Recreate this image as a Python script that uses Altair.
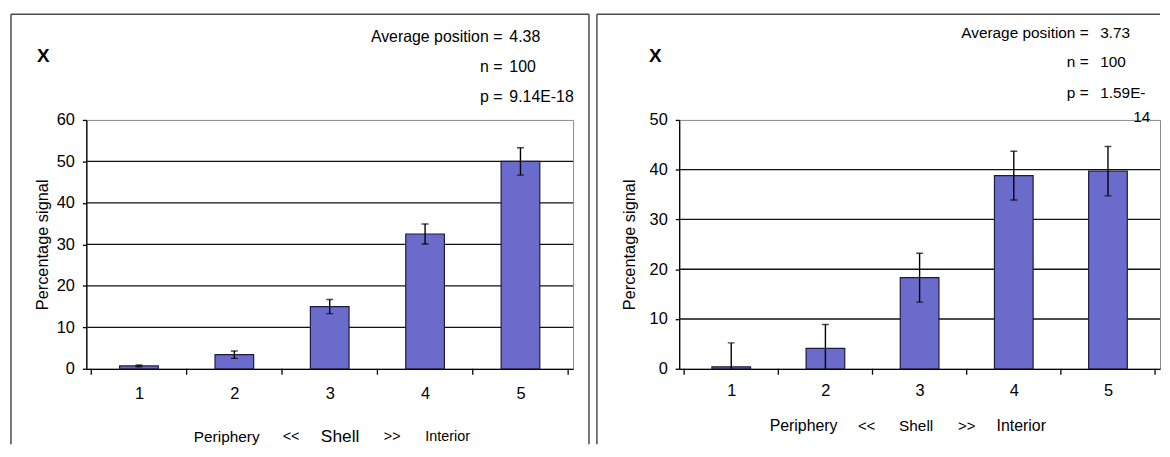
import altair as alt
import pandas as pd

# ---- data ----
POSITIONS = [1, 2, 3, 4, 5]
BOUNDARIES = [0.5, 1.5, 2.5, 3.5, 4.5, 5.5]

LEFT_VALUES = [0.7, 3.4, 15.0, 32.5, 50.0]
LEFT_ERRORS = [0.2, 0.9, 1.7, 2.4, 3.3]
LEFT_Y_TICKS = [0, 10, 20, 30, 40, 50, 60]

RIGHT_VALUES = [0.4, 4.1, 18.3, 38.8, 39.7]
RIGHT_ERRORS = [4.8, 4.8, 4.9, 4.9, 4.95]
RIGHT_Y_TICKS = [0, 10, 20, 30, 40, 50]

STATS_LABELS = ["Average position =", "n =", "p ="]
LEFT_STATS_VALUES = ["4.38", "100", "9.14E-18"]
RIGHT_STATS_VALUES = ["3.73", "100", "1.59E-", "14"]

PANEL_LETTER = "X"
Y_TITLE = "Percentage signal"
AXIS_WORDS = ["Periphery", "<<", "Shell", ">>", "Interior"]

FONT = "Liberation Sans"
BAR_FILL = "#6B6BCC"
BAR_STROKE = "#1c1c40"
FRAME = "#4a4a4a"


def one_row():
    return alt.Chart(pd.DataFrame({"k": [0]}))


def text_at(txt, x, y, size, align="left", weight="normal"):
    return one_row().mark_text(
        text=txt, font=FONT, fontSize=size, align=align, baseline="middle",
        fontWeight=weight, color="black"
    ).encode(x=alt.value(x), y=alt.value(y))


def panel(values, errors, y_ticks, W, H, frame_box, letter_xy,
          stats_values, stats_geom, words_geom, title_x, xlab_pad, right_frame=True):
    df = pd.DataFrame({
        "pos": POSITIONS,
        "val": values,
        "lo": [v - e for v, e in zip(values, errors)],
        "hi": [v + e for v, e in zip(values, errors)],
    })
    xs = alt.Scale(domain=[0.5, 5.5], nice=False, zero=False)
    ys = alt.Scale(domain=[0, y_ticks[-1]], nice=False, zero=True)
    x_axis = alt.Axis(values=POSITIONS, ticks=False, grid=False, domainColor="black",
                      domainWidth=1.3, labelFont=FONT, labelFontSize=16.5, labelColor="black",
                      labelPadding=xlab_pad, title=None, format="d", labelFlush=False)
    y_axis = alt.Axis(values=y_ticks, grid=False, domainColor="black", domainWidth=1.3,
                      tickColor="black", tickSize=4, tickWidth=1.3, labelFont=FONT,
                      labelFontSize=16.5, labelColor="black", labelPadding=8,
                      title=Y_TITLE, titleFont=FONT, titleFontSize=16.5,
                      titleFontWeight="normal", titleColor="black", titleX=title_x,
                      titleY=H / 2, titleBaseline="middle", titleAngle=-90,
                      titleAlign="center")
    X = lambda f: alt.X(f"{f}:Q", scale=xs, axis=x_axis)
    Y = lambda f: alt.Y(f"{f}:Q", scale=ys, axis=y_axis)

    grid = alt.Chart(pd.DataFrame({"val": y_ticks[1:-1]})).mark_rule(
        color="#111111", strokeWidth=1.3
    ).encode(y=Y("val"), x=alt.value(0), x2=alt.value(W))

    bars = alt.Chart(df).mark_bar(
        size=39, fill=BAR_FILL, stroke=BAR_STROKE, strokeWidth=1.2
    ).encode(x=X("pos"), y=Y("val"))

    err = alt.Chart(df).mark_errorbar(
        clip=True, color="black", thickness=1.4,
        ticks={"size": 7, "thickness": 1.4, "color": "black"}
    ).encode(x=X("pos"), y=Y("lo"), y2="hi:Q")

    xticks = alt.Chart(pd.DataFrame({"pos": BOUNDARIES})).mark_rule(
        color="black", strokeWidth=1.3
    ).encode(x=X("pos"), y=alt.value(H), y2=alt.value(H + 6))

    fl, ft, fr, fb = frame_box
    frames = [
        one_row().mark_rule(color=FRAME, strokeWidth=1.5).encode(
            x=alt.value(fl), y=alt.value(ft), y2=alt.value(fb)),
        one_row().mark_rule(color=FRAME, strokeWidth=1.5).encode(
            x=alt.value(fl), x2=alt.value(fr), y=alt.value(ft)),
    ]
    if right_frame:
        frames.append(one_row().mark_rule(color=FRAME, strokeWidth=1.5).encode(
            x=alt.value(fr), y=alt.value(ft), y2=alt.value(fb)))

    texts = [text_at(PANEL_LETTER, letter_xy[0], letter_xy[1], 19, "center", "bold")]
    lab_x, val_x, ys_, size = stats_geom
    for lab, yy in zip(STATS_LABELS, ys_[:3]):
        texts.append(text_at(lab, lab_x, yy, size, "right"))
    for i, v in enumerate(stats_values):
        if i < 3:
            texts.append(text_at(v, val_x, ys_[i], size, "left"))
        else:
            texts.append(text_at(v, ys_[3][0], ys_[3][1], size, "left"))

    wy, wx, wsizes = words_geom
    for w, xx, sz in zip(AXIS_WORDS, wx, wsizes):
        texts.append(text_at(w, xx, wy, sz, "center"))

    return alt.layer(*frames, grid, bars, err, xticks, *texts).properties(width=W, height=H)


left = panel(
    LEFT_VALUES, LEFT_ERRORS, LEFT_Y_TICKS, 491, 251,
    frame_box=(-76, -106.5, 507, 327), letter_xy=(-43.5, -64.5),
    stats_values=LEFT_STATS_VALUES,
    stats_geom=(419.7, 426.7, [-83.5, -53.5, -23.5], 16),
    words_geom=(319.5, [141.6, 206.5, 256, 308.5, 364.5], [15.5, 14.5, 17.5, 14.5, 14.5]),
    title_x=-44.5, xlab_pad=17,
)

right = panel(
    RIGHT_VALUES, RIGHT_ERRORS, RIGHT_Y_TICKS, 485, 251,
    frame_box=(-83, -106.5, 485, 327), letter_xy=(-24, -64),
    stats_values=RIGHT_STATS_VALUES,
    stats_geom=(413, 424.7, [-87.5, -58, -27, (458, -3)], 15.5),
    words_geom=(309, [125.5, 189, 239, 290, 345], [16, 15, 15.5, 15, 16]),
    title_x=-50, xlab_pad=14, right_frame=False,
)

chart = alt.hconcat(left, right, spacing=4, bounds="full").properties(
    padding={"left": 1, "top": 3, "right": 0, "bottom": 0},
    background="white",
).configure_view(stroke="#8a8a8a", strokeWidth=1)

chart.save("out.html", embed_options={"renderer": "svg", "actions": False})
